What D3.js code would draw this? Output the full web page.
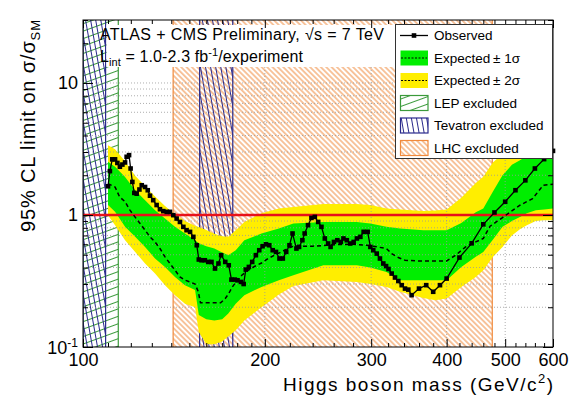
<!DOCTYPE html>
<html>
<head>
<meta charset="utf-8">
<script src="https://cdn.jsdelivr.net/npm/d3@7"></script>
<style>
body { margin: 0; background: #fff; }
svg { display: block; font-family: "Liberation Sans", Arial, Helvetica, sans-serif; }
</style>
</head>
<body>
<div id="chart"></div>
<script>
// observed limit (GeV, sigma/sigma_SM)
var obsMass = [110, 110.8, 111.8, 113, 114, 115.1, 116.2, 117.4, 118.1, 119.2,
  119.9, 120.7, 121.6, 122.7, 124, 125.1, 126.7, 128, 129.1, 130.7,
  132.4, 134.1, 135.8, 137.6, 139.3, 141.1, 142.9, 144.7, 146.6, 148.4,
  150.4, 152.3, 154.3, 155.5, 157.1, 159.1, 161.2, 163.2, 165.4, 167.6,
  169.3, 172, 174.3, 176.1, 178.4, 180.2, 182.6, 184.5, 186, 188.2,
  190.6, 193.3, 195.8, 198.3, 200.9, 203.4, 206.1, 208.7, 211.5, 214.2,
  217, 219.7, 222.3, 225.6, 227.9, 230.8, 232.8, 235.8, 238.9, 242,
  245.1, 248.2, 251.4, 254.6, 257, 260.3, 263.7, 267.2, 269.9, 273.4,
  277, 280.6, 284.1, 287.9, 291.5, 296, 299.1, 302.4, 306.4, 310.2,
  314.2, 317.5, 320.5, 324.4, 328.5, 332.7, 337, 341.3, 345.6, 350,
  360, 370, 380, 390, 400, 420, 440, 460, 480, 500,
  520, 540, 560, 580, 600];
var observed = [1.65, 2.15, 2.64, 2.64, 2.48, 2.32, 2.41, 2.50, 2.76, 2.84,
  2.25, 1.78, 1.47, 1.45, 1.56, 1.68, 1.63, 1.54, 1.40, 1.295,
  1.19, 1.106, 1.07, 1.056, 1.056, 0.997, 0.94, 0.886, 0.813, 0.767,
  0.745, 0.683, 0.59, 0.46, 0.454, 0.454, 0.441, 0.441, 0.393, 0.429,
  0.496, 0.441, 0.416, 0.324, 0.324, 0.32, 0.311, 0.30, 0.386, 0.404,
  0.441, 0.496, 0.541, 0.58, 0.60, 0.59, 0.541, 0.525, 0.468, 0.468,
  0.525, 0.59, 0.724, 0.557, 0.573, 0.644, 0.724, 0.837, 0.95, 0.967,
  0.886, 0.813, 0.664, 0.608, 0.573, 0.625, 0.644, 0.625, 0.664, 0.644,
  0.608, 0.625, 0.664, 0.683, 0.745, 0.745, 0.573, 0.541, 0.51, 0.468,
  0.429, 0.41, 0.39, 0.36, 0.336, 0.316, 0.294, 0.277, 0.272, 0.247,
  0.277, 0.294, 0.262, 0.294, 0.33, 0.476, 0.61, 0.85, 1.045, 1.26,
  1.54, 1.83, 2.25, 2.65, 3.06];

// median expected limit
var expMass = [110, 113, 115, 117.4, 119.6, 121.9, 124.3, 126.7, 129.1, 131.6,
  134.1, 136.7, 139.3, 142, 144.7, 147.5, 150.4, 153.3, 155.2, 156.5,
  160, 165, 169, 172, 174.3, 176.7, 180, 183.2, 187.8, 192.6,
  197.5, 202.5, 207.6, 213, 218.4, 223, 230, 240, 253, 266,
  280, 295, 307, 318, 324.4, 332.7, 341.3, 359, 378, 400,
  414, 430, 447, 460, 472, 495, 529, 555, 578, 600];
var expected = [1.73, 1.63, 1.37, 1.26, 1.087, 0.967, 0.862, 0.767, 0.683, 0.625,
  0.557, 0.482, 0.429, 0.382, 0.339, 0.321, 0.311, 0.30, 0.262, 0.216,
  0.216, 0.216, 0.216, 0.233, 0.254, 0.285, 0.32, 0.35, 0.382, 0.409,
  0.433, 0.468, 0.496, 0.525, 0.557, 0.58, 0.58, 0.58, 0.59, 0.598,
  0.60, 0.59, 0.573, 0.557, 0.51, 0.476, 0.454, 0.449, 0.449, 0.449,
  0.496, 0.573, 0.625, 0.664, 0.822, 0.957, 1.186, 1.33, 1.68, 1.71];

// +-1 sigma and +-2 sigma bands
var bandMass = [110, 113, 117.4, 122, 126.7, 131.6, 136.7, 142, 147.5, 153.3,
  155.5, 160, 165, 170, 174, 179, 185, 197.5, 211, 223,
  250, 284, 299, 318, 335, 366, 383, 400, 423, 447,
  460, 477, 495, 513, 529, 543, 562, 580, 600];
var band2Hi = [3.38, 3.15, 2.55, 1.98, 1.65, 1.38, 1.17, 1.01, 0.90, 0.83,
  0.81, 0.77, 0.72, 0.69, 0.683, 0.767, 0.886, 1.03, 1.12, 1.15,
  1.21, 1.21, 1.19, 1.12, 1.10, 1.07, 1.08, 1.10, 1.35, 1.75,
  1.95, 2.5, 2.9, 3.2, 3.6, 4.0, 4.4, 4.7, 5.0];
var band1Hi = [2.53, 2.32, 1.94, 1.54, 1.295, 1.087, 0.94, 0.813, 0.724, 0.644,
  0.61, 0.58, 0.557, 0.52, 0.496, 0.541, 0.644, 0.724, 0.79, 0.862,
  0.886, 0.886, 0.862, 0.813, 0.79, 0.767, 0.767, 0.767, 0.87, 1.05,
  1.12, 1.5, 2.0, 2.4, 2.6, 2.8, 3.0, 3.2, 3.3];
var band1Lo = [1.19, 1.056, 0.813, 0.683, 0.573, 0.468, 0.404, 0.339, 0.294, 0.27,
  0.175, 0.162, 0.159, 0.162, 0.179, 0.213, 0.247, 0.285, 0.321, 0.35,
  0.416, 0.416, 0.40, 0.37, 0.32, 0.32, 0.32, 0.32, 0.404, 0.482,
  0.525, 0.65, 0.813, 0.9, 0.967, 1.03, 1.087, 1.1, 1.12];
var band2Lo = [0.997, 0.837, 0.644, 0.525, 0.429, 0.36, 0.294, 0.247, 0.213, 0.20,
  0.13, 0.105, 0.105, 0.11, 0.12, 0.134, 0.159, 0.2, 0.25, 0.29,
  0.321, 0.311, 0.30, 0.285, 0.262, 0.235, 0.226, 0.233, 0.285, 0.339,
  0.382, 0.48, 0.573, 0.70, 0.78, 0.837, 0.9, 0.913, 0.913];

// excluded mass ranges (GeV)
var lepRange = [100, 114.4];
var tevRanges = [[100, 109], [156, 177]];
var lhcRange = [141, 476];

var xMajor = [100, 200, 300, 400, 500, 600];
var xMinor = [110, 120, 130, 140, 150, 160, 170, 180, 190, 220, 240, 260, 280,
  320, 340, 360, 380, 420, 440, 460, 480, 520, 540, 560, 580];
var yMajor = [0.1, 1, 10];
var yMinor = [0.2, 0.3, 0.4, 0.5, 0.6, 0.7, 0.8, 0.9, 2, 3, 4, 5, 6, 7, 8, 9, 20, 30];

var legendLabels = ["Observed", "Expected\u2009\u00b1 1\u03c3", "Expected\u2009\u00b1 2\u03c3",
  "LEP excluded", "Tevatron excluded", "LHC excluded"];

var margin = {top: 20, right: 25, bottom: 52, left: 83},
    width = 578 - margin.left - margin.right,
    height = 399 - margin.top - margin.bottom;

var cYellow = "#ffee00", cGreen = "#00ee00", cLep = "#3b9a3b",
    cTev = "#2a2a8c", cLhc = "#f08a3c";

var x = d3.scaleLog().domain([100, 600]).range([0, width]);
var y = d3.scaleLog().domain([0.1, 30]).range([height, 0]);

var svg0 = d3.select("#chart").append("svg")
    .attr("width", 578)
    .attr("height", 399);

svg0.append("rect").attr("width", 578).attr("height", 399).attr("fill", "#fff");

var defs = svg0.append("defs");

defs.append("clipPath").attr("id", "plotclip")
  .append("rect").attr("width", width).attr("height", height);

function hatch(id, color, spacing, angle) {
  var p = defs.append("pattern")
      .attr("id", id)
      .attr("patternUnits", "userSpaceOnUse")
      .attr("width", spacing)
      .attr("height", spacing)
      .attr("patternTransform", "rotate(" + angle + ")");
  p.append("line")
      .attr("x1", spacing / 2).attr("x2", spacing / 2)
      .attr("y1", 0).attr("y2", spacing)
      .attr("stroke", color)
      .attr("stroke-width", 1);
}
hatch("hLhc", cLhc, 3.8, -45);
hatch("hTev", cTev, 5, -10);
hatch("hLep", cLep, 7, 70);

var svg = svg0.append("g")
    .attr("transform", "translate(" + margin.left + "," + margin.top + ")");

var plot = svg.append("g").attr("clip-path", "url(#plotclip)");

// exclusion regions
function region(r, fill, stroke) {
  plot.append("rect")
      .attr("x", x(r[0]))
      .attr("y", 0)
      .attr("width", x(r[1]) - x(r[0]))
      .attr("height", height)
      .attr("fill", "url(#" + fill + ")");
  [r[0], r[1]].forEach(function(m) {
    plot.append("line")
        .attr("x1", x(m)).attr("x2", x(m))
        .attr("y1", 0).attr("y2", height)
        .attr("stroke", stroke)
        .attr("stroke-width", 1.2);
  });
}
region(lhcRange, "hLhc", cLhc);
region(lepRange, "hLep", cLep);
tevRanges.forEach(function(r) { region(r, "hTev", cTev); });

// white pave behind the caption
plot.append("rect")
    .attr("x", x(109) + 1)
    .attr("y", 5)
    .attr("width", 312 - x(109) - 1)
    .attr("height", 42)
    .attr("fill", "#fff");

// bands
var bands = bandMass.map(function(m, i) {
  return {m: m, lo2: band2Lo[i], lo1: band1Lo[i], hi1: band1Hi[i], hi2: band2Hi[i]};
});

plot.append("path")
    .datum(bands)
    .attr("fill", cYellow)
    .attr("d", d3.area()
      .x(function(d) { return x(d.m); })
      .y0(function(d) { return y(d.lo2); })
      .y1(function(d) { return y(d.hi2); }));

plot.append("path")
    .datum(bands)
    .attr("fill", cGreen)
    .attr("d", d3.area()
      .x(function(d) { return x(d.m); })
      .y0(function(d) { return y(d.lo1); })
      .y1(function(d) { return y(d.hi1); }));

// grid
var grid = plot.append("g")
    .attr("stroke", "#999")
    .attr("stroke-width", 0.8)
    .attr("stroke-dasharray", "1,2");

grid.selectAll(".gy")
    .data(yMinor.concat([10]).filter(function(d) { return d < 15; }))
    .enter().append("line")
    .attr("x1", 0).attr("x2", width)
    .attr("y1", function(d) { return y(d); })
    .attr("y2", function(d) { return y(d); });

grid.selectAll(".gx")
    .data(xMajor.slice(1, -1))
    .enter().append("line")
    .attr("y1", 47).attr("y2", height)
    .attr("x1", function(d) { return x(d); })
    .attr("x2", function(d) { return x(d); });

// SM line
plot.append("line")
    .attr("x1", 0).attr("x2", width)
    .attr("y1", y(1)).attr("y2", y(1))
    .attr("stroke", "#e8101a")
    .attr("stroke-width", 2.4);

// expected
var expData = expMass.map(function(m, i) { return {m: m, v: expected[i]}; });
plot.append("path")
    .datum(expData)
    .attr("fill", "none")
    .attr("stroke", "#000")
    .attr("stroke-width", 1.5)
    .attr("stroke-dasharray", "4,3")
    .attr("d", d3.line()
      .x(function(d) { return x(d.m); })
      .y(function(d) { return y(d.v); }));

// observed
var obsData = obsMass.map(function(m, i) { return {m: m, v: observed[i]}; });
var line = d3.line()
    .x(function(d) { return x(d.m); })
    .y(function(d) { return y(d.v); });

svg.append("path")
    .datum(obsData)
    .attr("fill", "none")
    .attr("stroke", "#000")
    .attr("stroke-width", 1.3)
    .attr("d", line);

svg.selectAll(".obs")
    .data(obsData)
    .enter().append("rect")
    .attr("class", "obs")
    .attr("x", function(d) { return x(d.m) - 2.3; })
    .attr("y", function(d) { return y(d.v) - 2.3; })
    .attr("width", 4.6)
    .attr("height", 4.6)
    .attr("fill", "#000");

// axes
var xAxis = d3.axisBottom(x).tickValues(xMajor).tickSize(-8).tickPadding(6)
    .tickFormat(d3.format("d"));
var xAxisMinor = d3.axisBottom(x).tickValues(xMinor).tickSize(-4).tickFormat("");
var yAxis = d3.axisLeft(y).tickValues(yMajor).tickSize(-10).tickPadding(5)
    .tickFormat(function(d) { return d === 0.1 ? "" : d3.format("d")(d); });
var yAxisMinor = d3.axisLeft(y).tickValues(yMinor).tickSize(-5).tickFormat("");

function styleAxis(g) {
  g.select(".domain").remove();
  g.selectAll("line").attr("stroke", "#000");
  g.selectAll("text").attr("fill", "#000").style("font-size", "18px")
    .style("font-family", "Liberation Sans, Arial, sans-serif");
}

svg.append("g").attr("transform", "translate(0," + height + ")").call(xAxis).call(styleAxis);
svg.append("g").attr("transform", "translate(0," + height + ")").call(xAxisMinor).call(styleAxis);
svg.append("g").call(d3.axisTop(x).tickValues(xMajor).tickSize(-8).tickFormat("")).call(styleAxis);
svg.append("g").call(d3.axisTop(x).tickValues(xMinor).tickSize(-4).tickFormat("")).call(styleAxis);
svg.append("g").call(yAxis).call(styleAxis);
svg.append("g").call(yAxisMinor).call(styleAxis);
svg.append("g").attr("transform", "translate(" + width + ",0)")
    .call(d3.axisRight(y).tickValues(yMajor).tickSize(-10).tickFormat("")).call(styleAxis);
svg.append("g").attr("transform", "translate(" + width + ",0)")
    .call(d3.axisRight(y).tickValues(yMinor).tickSize(-5).tickFormat("")).call(styleAxis);

// 10^-1 label
var lab = svg.append("text")
    .attr("x", -5)
    .attr("y", y(0.1) + 7)
    .attr("text-anchor", "end")
    .style("font-size", "18px");
lab.append("tspan").text("10");
lab.append("tspan").attr("dy", -7).style("font-size", "12px").text("-1");

svg.append("rect")
    .attr("width", width)
    .attr("height", height)
    .attr("fill", "none")
    .attr("stroke", "#000")
    .attr("stroke-width", 1);

// titles
var xt = svg0.append("text")
    .attr("x", 553)
    .attr("y", 391)
    .attr("text-anchor", "end")
    .attr("textLength", 270)
    .attr("lengthAdjust", "spacing")
    .style("font-size", "19px");
xt.append("tspan").text("Higgs boson mass (GeV/c");
xt.append("tspan").attr("dy", -8).style("font-size", "13px").text("2");
xt.append("tspan").attr("dy", 8).text(")");

var yt = svg0.append("text")
    .attr("transform", "translate(35,20) rotate(-90)")
    .attr("text-anchor", "end")
    .attr("textLength", 212)
    .attr("lengthAdjust", "spacing")
    .style("font-size", "20px");
yt.append("tspan").text("95% CL limit on \u03c3/\u03c3");
yt.append("tspan").attr("dy", 5).style("font-size", "13px").text("SM");

svg0.append("text")
    .attr("x", 100)
    .attr("y", 40)
    .attr("textLength", 284)
    .attr("lengthAdjust", "spacing")
    .style("font-size", "16px")
    .text("ATLAS + CMS Preliminary, \u221As = 7 TeV");

var lt = svg0.append("text")
    .attr("x", 100)
    .attr("y", 62)
    .attr("textLength", 203)
    .attr("lengthAdjust", "spacing")
    .style("font-size", "16px");
lt.append("tspan").text("L");
lt.append("tspan").attr("dy", 4).style("font-size", "11px").text("int");
lt.append("tspan").attr("dy", -4).text(" = 1.0-2.3 fb");
lt.append("tspan").attr("dy", -6).style("font-size", "11px").text("-1");
lt.append("tspan").attr("dy", 6).text("/experiment");

// legend
var legend = svg0.append("g");
legend.append("rect")
    .attr("x", 395.5).attr("y", 24.5)
    .attr("width", 157).attr("height", 134)
    .attr("fill", "#fff")
    .attr("stroke", "#333")
    .attr("stroke-width", 1);

var entry = legend.selectAll(".entry")
    .data(legendLabels)
    .enter().append("g")
    .attr("transform", function(d, i) { return "translate(400," + (35.5 + i * 22.5) + ")"; });

entry.append("text")
    .attr("x", 34)
    .attr("dy", "0.36em")
    .style("font-size", "13.5px")
    .text(function(d) { return d; });

entry.each(function(d, i) {
  var g = d3.select(this);
  if (i === 0) {
    g.append("line").attr("x1", 0).attr("x2", 28).attr("stroke", "#000").attr("stroke-width", 1.3);
    g.append("rect").attr("x", 11.7).attr("y", -2.3).attr("width", 4.6).attr("height", 4.6);
  } else if (i < 3) {
    g.append("rect").attr("x", 0.5).attr("y", -7.5).attr("width", 27.5).attr("height", 15)
        .attr("fill", i === 1 ? cGreen : cYellow);
    g.append("line").attr("x1", 1).attr("x2", 27).attr("stroke", "#000")
        .attr("stroke-width", 1).attr("stroke-dasharray", "2,1.5");
  } else {
    var pat = ["hLep", "hTev", "hLhc"][i - 3], col = [cLep, cTev, cLhc][i - 3];
    g.append("rect").attr("x", 0.5).attr("y", -7.5).attr("width", 27.5).attr("height", 15)
        .attr("fill", "url(#" + pat + ")")
        .attr("stroke", col)
        .attr("stroke-width", 1.2);
  }
});
</script>
</body>
</html>
